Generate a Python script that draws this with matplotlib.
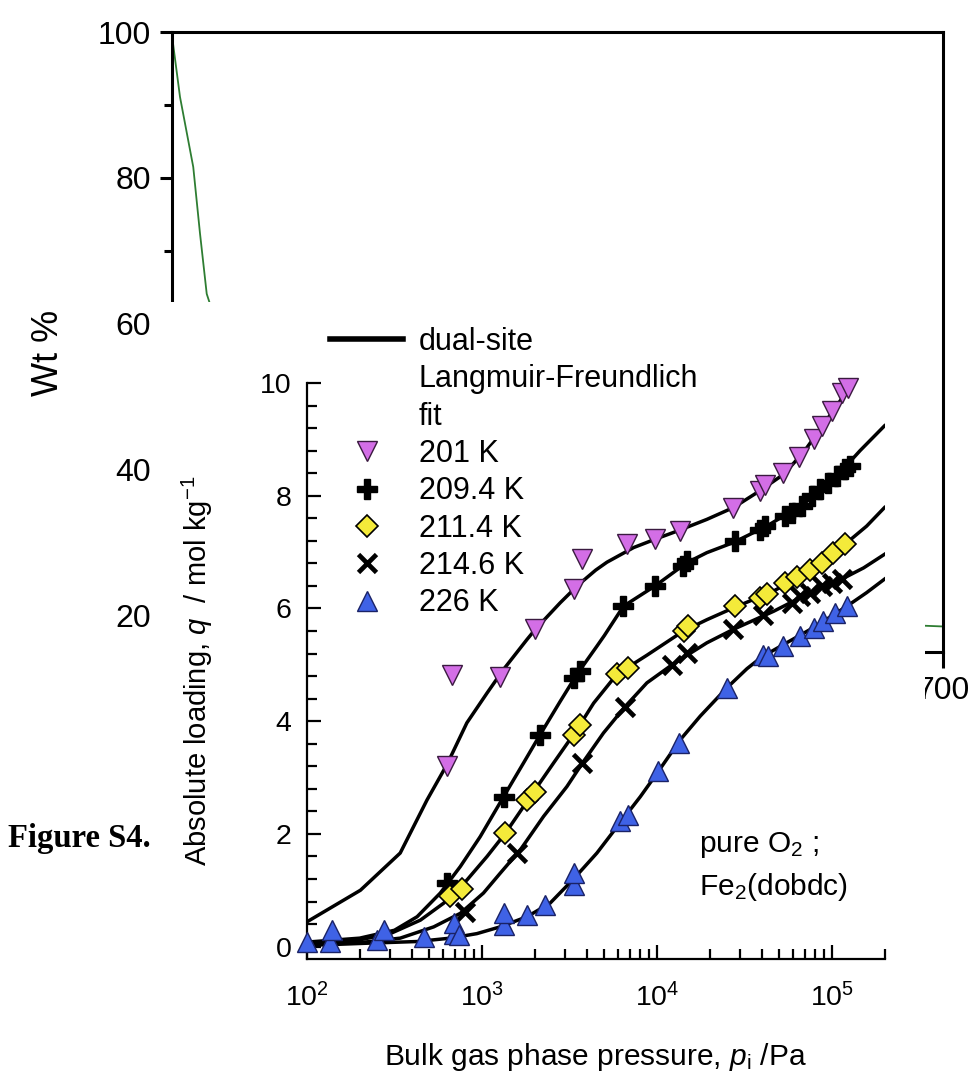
import numpy as np
import matplotlib
matplotlib.use("Agg")
import matplotlib.pyplot as plt
from matplotlib.patches import Rectangle
from matplotlib.lines import Line2D
from matplotlib.ticker import MultipleLocator, FixedLocator

plt.rcParams['font.family'] = ['Liberation Sans', 'DejaVu Sans']
plt.rcParams['mathtext.fontset'] = 'custom'
plt.rcParams['mathtext.rm'] = 'Liberation Sans'
plt.rcParams['mathtext.it'] = 'Liberation Sans:italic'
plt.rcParams['mathtext.bf'] = 'Liberation Sans:bold'

# ---- background TGA trace (mostly hidden behind the isotherm panel)
tga_temp = [25, 32, 43.6, 49.5, 55.4, 58.3, 80, 150, 300, 450, 600, 684, 700]
tga_wt = [99.5, 91.1, 81.5, 72.4, 64.1, 62.7, 50, 35, 25, 21, 19, 18.6, 18.5]

# ---- O2 isotherms, Fe2(dobdc): measured points (p / Pa, q / mol kg-1)
p_201 = [634, 675, 1270, 2020, 3340, 3730, 6740, 9780, 13500, 27400, 38600, 41600,
         52900, 64500, 78600, 87700, 100000, 114000, 124000]
q_201 = [3.2, 4.82, 4.79, 5.63, 6.34, 6.87, 7.14, 7.24, 7.37, 7.79, 8.09, 8.19,
         8.41, 8.68, 9.0, 9.24, 9.51, 9.83, 9.92]

p_209 = [631, 1330, 2150, 3340, 3650, 6440, 9780, 14100, 14800, 28000, 38900, 41600,
         54100, 58900, 67400, 76900, 85800, 95400, 107000, 119000, 127000]
q_209 = [1.12, 2.66, 3.76, 4.77, 4.89, 6.04, 6.40, 6.75, 6.85, 7.2, 7.40, 7.46,
         7.64, 7.70, 7.82, 8.0, 8.12, 8.23, 8.35, 8.47, 8.53]

p_211 = [659, 769, 1360, 1810, 2020, 3340, 3650, 5900, 6880, 14200, 15100, 28000,
         38900, 42400, 54100, 63000, 75200, 87700, 102000, 119000]
q_211 = [0.89, 1.03, 2.01, 2.60, 2.75, 3.76, 3.94, 4.83, 4.95, 5.60, 5.69, 6.04,
         6.19, 6.25, 6.46, 6.55, 6.69, 6.81, 6.99, 7.14]

p_214 = [803, 1585, 3730, 6590, 12200, 14800, 27400, 40600, 58900, 66000, 75200,
         87700, 100000, 114000]
q_214 = [0.62, 1.66, 3.26, 4.26, 5.0, 5.21, 5.63, 5.89, 6.10, 6.22, 6.28,
         6.40, 6.46, 6.52]

p_226 = [100, 136, 139, 251, 274, 464, 688, 688, 736, 1330, 1330, 1810, 2300, 3340,
         3340, 6170, 6880, 10200, 13300, 25100, 40600, 43400, 52900, 65900, 78600,
         89500, 104000, 122000]
q_226 = [0.09, 0.09, 0.29, 0.12, 0.29, 0.17, 0.23, 0.41, 0.2, 0.38, 0.59, 0.56, 0.74,
         1.09, 1.30, 2.22, 2.34, 3.11, 3.61, 4.59, 5.18, 5.15, 5.33, 5.51, 5.66,
         5.77, 5.92, 6.04]

# ---- dual-site Langmuir-Freundlich fits
fp_201 = [100, 202, 341, 485, 631, 820, 1070, 1330, 1810, 2020, 2800, 3560, 4470,
          5180, 7360, 10000, 13000, 19300, 27400, 38900, 53000, 68900, 85700, 107000,
          124000]
fq_201 = [0.44, 1.0, 1.66, 2.6, 3.23, 3.97, 4.5, 4.92, 5.45, 5.63, 6.10, 6.42, 6.68,
          6.82, 7.08, 7.24, 7.37, 7.58, 7.79, 8.09, 8.38, 8.77, 9.18, 9.6, 9.89]

fp_209 = [100, 200, 316, 426, 578, 752, 977, 1330, 1730, 2150, 2800, 3490, 4540,
          5010, 6440, 9770, 14800, 19300, 27400, 42400, 68900, 107000, 145000, 200000]
fq_209 = [0.08, 0.15, 0.29, 0.53, 0.95, 1.42, 1.95, 2.66, 3.26, 3.76, 4.35, 4.83, 5.33,
          5.52, 6.04, 6.40, 6.81, 6.99, 7.17, 7.46, 7.85, 8.35, 8.8, 9.24]

fp_211 = [100, 200, 299, 445, 604, 820, 1070, 1360, 1890, 2570, 3490, 4350, 5900,
          8770, 14200, 19300, 27400, 46500, 71900, 119000, 158000, 200000]
fq_211 = [0.06, 0.12, 0.23, 0.47, 0.77, 1.18, 1.6, 2.01, 2.66, 3.26, 3.85, 4.32, 4.83,
          5.17, 5.60, 5.8, 6.01, 6.31, 6.63, 7.14, 7.46, 7.79]

fp_214 = [100, 200, 341, 530, 752, 1020, 1270, 1660, 2250, 3060, 3760, 4950, 6590,
          8770, 12200, 19300, 27400, 46500, 75200, 114000, 152000, 200000]
fq_214 = [0.04, 0.07, 0.15, 0.35, 0.59, 0.95, 1.3, 1.72, 2.31, 2.84, 3.26, 3.79, 4.26,
          4.68, 5.0, 5.39, 5.63, 5.95, 6.28, 6.52, 6.72, 6.96]

fp_226 = [100, 220, 426, 659, 935, 1270, 1810, 2450, 3340, 4540, 6170, 8040, 10200,
          13600, 17700, 25100, 32700, 39800, 53000, 78600, 122000, 158000, 200000]
fq_226 = [0.02, 0.06, 0.09, 0.15, 0.23, 0.35, 0.53, 0.77, 1.2, 1.66, 2.2, 2.66, 3.11,
          3.67, 4.09, 4.59, 4.93, 5.14, 5.36, 5.66, 6.04, 6.28, 6.52]

W, H = 976, 1076
fig = plt.figure(figsize=(W / 100, H / 100), dpi=100)


def fx(px):
    return px / W


def fy(py):
    return 1 - py / H


# background chart
ax_bg = fig.add_axes([fx(172), fy(652), fx(943) - fx(172), fy(32) - fy(652)])
ax_bg.plot(tga_temp, tga_wt, color='#2e7d32', lw=1.3)
ax_bg.set_xlim(25, 700)
ax_bg.set_ylim(15, 100)
ax_bg.yaxis.set_major_locator(FixedLocator([20, 40, 60, 80, 100]))
ax_bg.yaxis.set_minor_locator(MultipleLocator(10))
ax_bg.xaxis.set_major_locator(MultipleLocator(100))
ax_bg.tick_params(which='major', direction='out', length=9, width=2.2, labelsize=23, pad=6)
ax_bg.tick_params(which='minor', direction='out', length=6, width=2.2)
ax_bg.tick_params(axis='x', which='major', length=11.5)
for s in ax_bg.spines.values():
    s.set_linewidth(2.2)
ax_bg.set_ylabel('Wt %', fontsize=26)
ax_bg.yaxis.set_label_coords(-0.138, 0.482)

# white panel covering the background
fig.add_artist(Rectangle((fx(155), 0), fx(925) - fx(155), fy(302),
                         transform=fig.transFigure, facecolor='white',
                         edgecolor='none', zorder=1))

fig.text(fx(8), fy(847), 'Figure S4.', family=['Liberation Serif'], weight='bold',
         fontsize=23.5, va='baseline', zorder=3)

# isotherm inset
ax = fig.add_axes([fx(307), fy(959), fx(884.5) - fx(307), fy(383) - fy(959)])
ax.set_zorder(2)
ax.set_xscale('log')

lw_fit = 2.5
for fp, fq in [(fp_201, fq_201), (fp_209, fq_209), (fp_211, fq_211),
               (fp_214, fq_214), (fp_226, fq_226)]:
    ax.plot(fp, fq, color='black', lw=lw_fit, zorder=2)

st_201 = dict(marker='v', ms=15, mfc='#d36ee6', mec='#3a1a40', mew=1.0, ls='none')
st_209 = dict(marker='P', ms=15, mfc='black', mec='black', mew=1.0, ls='none')
st_211 = dict(marker='D', ms=11.5, mfc='#f4ea3a', mec='black', mew=1.2, ls='none')
st_214 = dict(marker='x', ms=12.5, mfc='black', mec='black', mew=3.4, ls='none')
st_226 = dict(marker='^', ms=15, mfc='#3f62e6', mec='#1a2266', mew=1.0, ls='none')

ax.plot(p_201, q_201, zorder=3, clip_on=False, **st_201)
ax.plot(p_209, q_209, zorder=3, clip_on=False, **st_209)
ax.plot(p_211, q_211, zorder=3, clip_on=False, **st_211)
ax.plot(p_214, q_214, zorder=3, clip_on=False, **st_214)
ax.plot(p_226, q_226, zorder=3, clip_on=False, **st_226)

ax.set_xlim(100, 2e5)
ax.set_ylim(-0.22, 10)
ax.yaxis.set_major_locator(MultipleLocator(2))
ax.yaxis.set_minor_locator(MultipleLocator(0.4))
ax.spines['top'].set_visible(False)
ax.spines['right'].set_visible(False)
ax.spines['left'].set_linewidth(1.6)
ax.spines['bottom'].set_linewidth(1.6)
ax.tick_params(which='major', direction='in', length=10, width=1.6, labelsize=20.5)
ax.tick_params(which='minor', direction='in', length=7.5, width=1.6)
ax.tick_params(axis='y', pad=11)
ax.tick_params(axis='x', pad=17)

ax.set_ylabel(r'Absolute loading, $q$  / mol kg$^{-1}$', fontsize=21)
ax.yaxis.set_label_coords(-0.16, 0.5)
ax.set_xlabel(r'Bulk gas phase pressure, $p_\mathrm{i}$ /Pa', fontsize=21.5)
ax.xaxis.set_label_coords(0.5, -0.143)

ax.text(0.678, 0.186, r'pure O$_2$ ;', transform=ax.transAxes, fontsize=21.5, va='baseline')
ax.text(0.678, 0.111, r'Fe$_2$(dobdc)', transform=ax.transAxes, fontsize=21.5, va='baseline')

blank = Line2D([], [], ls='none', marker='none')
handles = [Line2D([], [], color='black', lw=4), blank, blank,
           Line2D([], [], **st_201), Line2D([], [], **st_209), Line2D([], [], **st_211),
           Line2D([], [], **st_214), Line2D([], [], **st_226)]
labels = ['dual-site', 'Langmuir-Freundlich', 'fit', '201 K', '209.4 K', '211.4 K',
          '214.6 K', '226 K']
ax.legend(handles, labels, loc='upper left', bbox_to_anchor=(fx(330), fy(327)),
          bbox_transform=fig.transFigure, frameon=False, fontsize=22,
          borderpad=0, borderaxespad=0, handlelength=2.4, handletextpad=0.5,
          labelspacing=0.24)

fig.savefig('out.png', dpi=100)
